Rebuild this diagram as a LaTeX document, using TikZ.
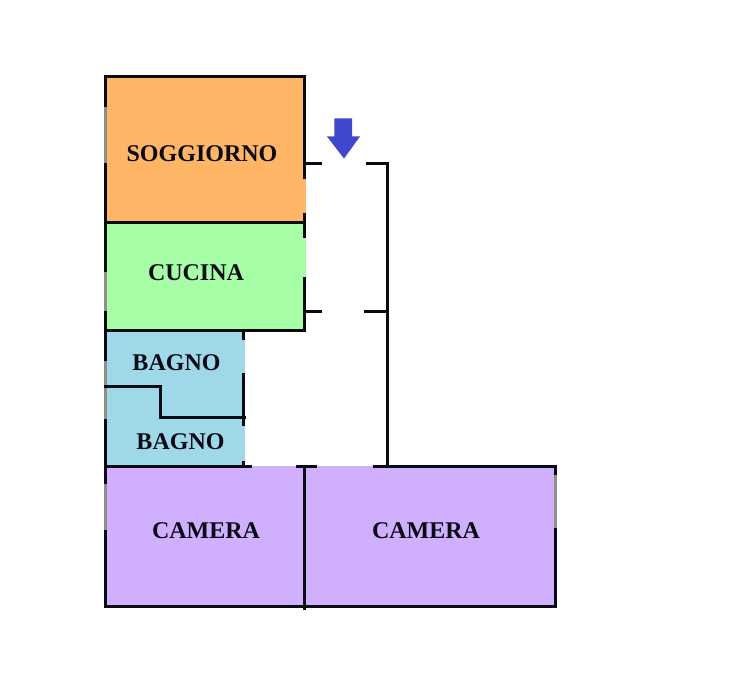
\documentclass[tikz,border=0pt]{standalone}
\usepackage{fontspec}
\setmainfont{Liberation Serif}
\definecolor{sogg}{HTML}{FFB566}
\definecolor{cuc}{HTML}{A6FFA6}
\definecolor{bag}{HTML}{9FD8E8}
\definecolor{cam}{HTML}{D0AFFF}
\definecolor{arr}{HTML}{3F48CC}
\definecolor{wallgrey}{HTML}{8F8F85}
\definecolor{ink}{HTML}{0A0A14}
\tikzset{
  wall/.style={draw=ink,line width=3pt,line cap=butt},
  greywall/.style={draw=wallgrey,line width=3pt,line cap=butt},
  room/.style={font=\bfseries\fontsize{24}{24}\selectfont,text=ink,inner sep=0pt,anchor=center}
}
\begin{document}
\begin{tikzpicture}[x=1pt,y=-1pt]
\useasboundingbox (0,0) rectangle (745,676);
\fill[white] (0,0) rectangle (745,676);
\begin{scope}[yshift=-0.5pt]
% room fills
\fill[sogg] (105,76) rectangle (306,222);
\fill[cuc] (105,222) rectangle (306,330);
\fill[bag] (105,330) rectangle (245,466);
\fill[cam] (105,466) rectangle (556,606);
% outer left wall
\draw[wall] (105.5,74.5) -- (105.5,607.5);
\foreach \a/\b in {107/163,272/311,361/385,388/419,483/529}
  \draw[greywall] (105.5,\a) -- (105.5,\b);
% horizontal walls
\draw[wall] (104,76) -- (305.5,76);
\draw[wall] (105,222) -- (304,222);
\draw[wall] (105,330) -- (305.5,330);
\draw[wall] (104,606) -- (557,606);
\draw[wall] (105,466) -- (252,466);
\draw[wall] (296,466) -- (317,466);
\draw[wall] (373,466) -- (557,466);
% right wall of living room and kitchen
\draw[wall] (304,76) -- (304,179);
\draw[wall] (304,213) -- (304,238);
\draw[wall] (304,277) -- (304,330);
% bathroom walls
\draw[wall] (243.5,330) -- (243.5,340);
\draw[wall] (243.5,373) -- (243.5,426);
\draw[wall] (243.5,461) -- (243.5,466);
\draw[wall] (105,386.5) -- (160.5,386.5) -- (160.5,417) -- (246,417);
% camera walls
\draw[wall] (304,466) -- (304,609);
\draw[wall] (555.5,466) -- (555.5,606);
\draw[greywall] (555.5,475) -- (555.5,527);
% hall
\draw[wall] (304,163.5) -- (322,163.5);
\draw[wall] (366,163.5) -- (387.5,163.5) -- (387.5,466);
\draw[wall] (304,311) -- (322,311);
\draw[wall] (364,311) -- (387.5,311);
% entrance arrow
\fill[arr] (334.3,118) -- (352,118) -- (352,136) -- (360,136) -- (344,158) -- (327,136) -- (334.3,136) -- cycle;
% labels
\node[room] (soggiorno) at (202,153.3) {SOGGIORNO};
\node[room] (cucina) at (196,272.3) {CUCINA};
\node[room] (bagnoa) at (176.5,362.3) {BAGNO};
\node[room] (bagnob) at (180.5,441.3) {BAGNO};
\node[room] (camerab) at (206,530.3) {CAMERA};
\node[room] (cameraa) at (426,530.3) {CAMERA};
\end{scope}
\end{tikzpicture}
\end{document}
